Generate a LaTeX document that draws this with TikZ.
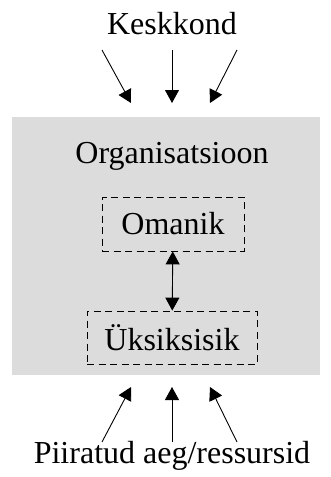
\documentclass[tikz,border=0pt]{standalone}
\usepackage{fontspec}
\setmainfont{Liberation Serif}
\usetikzlibrary{arrows.meta,positioning}
\definecolor{orggray}{RGB}{220,220,220}

\begin{document}
\begin{tikzpicture}[x=1pt,y=-1pt,
  txt/.style={font=\fontsize{32}{38}\selectfont, inner sep=0pt},
  rolebox/.style={draw, dash pattern=on 7pt off 4.5pt, line width=0.8pt, font=\fontsize{32}{38}\selectfont, inner sep=0pt},
  arr/.style={-{Triangle[length=13pt,width=14pt]}, line width=0.9pt}]
  \useasboundingbox (0,0) rectangle (331,477);

  % Organisation box
  \node[fill=orggray, minimum width=308pt, minimum height=258pt, inner sep=0pt] (org) at (166,246) {};
  \node[txt] (orglabel) at (172,156) {Organisatsioon};

  % Roles
  \node[rolebox, minimum width=142pt, minimum height=54pt] (omanik) at (173,224) {Omanik};
  \node[rolebox, minimum width=170pt, minimum height=53pt] (uksik) at (172,337.5) {Üksiksisik};
  \draw[arr, {Triangle[length=13pt,width=14pt]}-{Triangle[length=13pt,width=14pt]}] (omanik) -- (uksik);

  % Environment
  \node[txt] (keskkond) at (172,24) {Keskkond};
  \coordinate (k1) at (102,50);  \coordinate (kt1) at (131,103);
  \coordinate (k2) at (172,50);  \coordinate (kt2) at (172,103);
  \coordinate (k3) at (237,50);  \coordinate (kt3) at (210,103);
  \draw[arr] (k1) -- (kt1);
  \draw[arr] (k2) -- (kt2);
  \draw[arr] (k3) -- (kt3);

  % Limits
  \node[txt] (piiratud) at (172,456) {Piiratud aeg/ressursid};
  \coordinate (p1) at (102,442);  \coordinate (pt1) at (131,387);
  \coordinate (p2) at (172,442);  \coordinate (pt2) at (172,387);
  \coordinate (p3) at (237,442);  \coordinate (pt3) at (210,387);
  \draw[arr] (p1) -- (pt1);
  \draw[arr] (p2) -- (pt2);
  \draw[arr] (p3) -- (pt3);
\end{tikzpicture}
\end{document}
